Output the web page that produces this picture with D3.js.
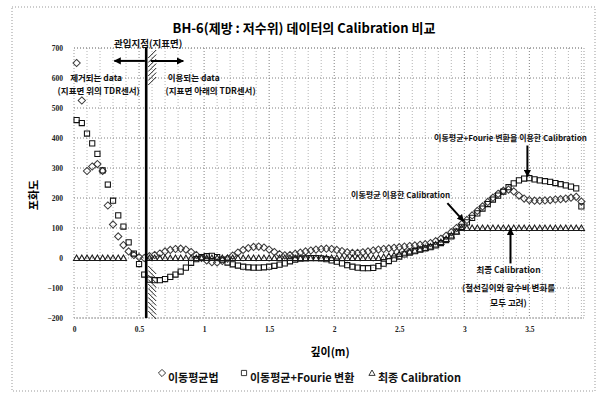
<!DOCTYPE html>
<html>
<head>
<meta charset="utf-8">
<script src="https://cdn.jsdelivr.net/npm/d3@7"></script>
<style>
body { margin: 0; background: #fff; }
svg { display: block; font-family: "Noto Sans CJK KR", "Noto Sans", sans-serif; }
</style>
</head>
<body>
<div id="chart"></div>
<script>
// depth of each reading (m)
var depth = [
  0.02, 0.06, 0.10, 0.14, 0.18, 0.22, 0.26, 0.30, 0.34, 0.38,
  0.42, 0.46, 0.50, 0.54, 0.58, 0.62, 0.66, 0.70, 0.74, 0.78,
  0.82, 0.86, 0.90, 0.94, 0.98, 1.02, 1.06, 1.10, 1.14, 1.18,
  1.22, 1.26, 1.30, 1.34, 1.38, 1.42, 1.46, 1.50, 1.54, 1.58,
  1.62, 1.66, 1.70, 1.74, 1.78, 1.82, 1.86, 1.90, 1.94, 1.98,
  2.02, 2.06, 2.10, 2.14, 2.18, 2.22, 2.26, 2.30, 2.34, 2.38,
  2.42, 2.46, 2.50, 2.54, 2.58, 2.62, 2.66, 2.70, 2.74, 2.78,
  2.82, 2.86, 2.90, 2.94, 2.98, 3.02, 3.06, 3.10, 3.14, 3.18,
  3.22, 3.26, 3.30, 3.34, 3.38, 3.42, 3.46, 3.50, 3.54, 3.58,
  3.62, 3.66, 3.70, 3.74, 3.78, 3.82, 3.86, 3.90
];

// 이동평균법 (diamonds)
var movingAvg = [
  650, 525, 290, 305, 313, 290, 175, 112, 72, 43,
  22, 10, 3, 0, 6, 10, 15, 22, 27, 30,
  31, 28, 20, 10, 0, -8, -14, -15, -10, -2,
  8, 18, 27, 33, 37, 38, 35, 28, 20, 13,
  9, 10, 14, 18, 22, 25, 28, 30, 31, 30,
  27, 23, 19, 17, 17, 19, 22, 25, 28, 30,
  32, 34, 36, 38, 40, 42, 44, 46, 50, 56,
  64, 74, 86, 100, 113, 127, 142, 157, 172, 187,
  201, 214, 224, 228, 222, 208, 198, 193, 191, 191,
  192, 193, 195, 196, 198, 201, 204, 188
];

// 이동평균+Fourie 변환 (squares)
var fourier = [
  460, 450, 415, 382, 347, 292, 245, 191, 142, 105,
  52, 15, -20, -55, -72, -74, -74, -70, -63, -55,
  -45, -32, -16, -4, 3, 6, 7, 3, -5, -15,
  -21, -25, -29, -31, -32, -32, -31, -29, -26, -22,
  -18, -11, -5, -2, -1, 0, 0, -1, -4, -8,
  -12, -18, -24, -29, -32, -34, -34, -33, -27, -19,
  -10, -2, 5, 12, 18, 23, 28, 32, 36, 42,
  50, 60, 72, 88, 104, 119, 134, 149, 165, 180,
  195, 208, 221, 236, 249, 259, 265, 266, 262, 259,
  256, 254, 250, 246, 242, 238, 232, 172
];

// 최종 Calibration (triangles)
var finalCal = [
  0, 0, 0, 0, 0, 0, 0, 0, 0, 0,
  null, null, null, null, 0, 0, 0, 0, 0, 0,
  0, 0, 0, 0, 0, 0, 0, 0, 0, 0,
  0, 0, 0, 0, 0, 0, 0, 0, 0, 0,
  0, 0, 0, 0, 0, 0, 0, 0, 0, 0,
  0, 0, 0, 0, 0, 0, 0, 0, 0, 3,
  6, 9, 13, 17, 21, 25, 29, 33, 38, 45,
  53, 63, 75, 88, 100, 100, 100, 100, 100, 100,
  100, 100, 100, 100, 100, 100, 100, 100, 100, 100,
  100, 100, 100, 100, 100, 100, 100, 100
];

var xTicks = [0, 0.5, 1, 1.5, 2, 2.5, 3, 3.5];
var yTicks = [-200, -100, 0, 100, 200, 300, 400, 500, 600, 700];
var surfaceDepth = 0.555;

var width = 599, height = 396;
var svg = d3.select('#chart').append('svg')
    .attr('width', width)
    .attr('height', height);

// outer frame
svg.append('rect')
    .attr('x', 12).attr('y', 7).attr('width', 583).attr('height', 384)
    .attr('fill', 'none').attr('stroke', '#999').attr('stroke-dasharray', '1 2');

var x = d3.scaleLinear().domain([0, 3.92]).range([74, 584]);
var y = d3.scaleLinear().domain([-200, 700]).range([318, 48]);

// minor + major vertical grid
var minorX = d3.range(1, 40).map(function (i) { return i / 10; }).filter(function (d) { return d <= 3.92; });
svg.append('g').selectAll('line')
    .data(minorX)
    .enter().append('line')
    .attr('x1', function (d) { return x(d); }).attr('x2', function (d) { return x(d); })
    .attr('y1', y(700)).attr('y2', y(-200))
    .attr('stroke', function (d) { return Math.abs(d * 2 - Math.round(d * 2)) < 1e-6 ? '#808080' : '#b4b4b4'; })
    .attr('stroke-dasharray', '1 2');

// horizontal grid
svg.append('g').selectAll('line')
    .data(yTicks)
    .enter().append('line')
    .attr('x1', x(0)).attr('x2', x(3.92))
    .attr('y1', function (d) { return y(d); }).attr('y2', function (d) { return y(d); })
    .attr('stroke', '#808080').attr('stroke-dasharray', '1 2');

// plot frame sides
svg.append('rect')
    .attr('x', x(0)).attr('y', y(700))
    .attr('width', x(3.92) - x(0)).attr('height', y(-200) - y(700))
    .attr('fill', 'none').attr('stroke', '#999').attr('stroke-dasharray', '1 2');

// axes (labels only)
var yAxis = svg.append('g')
    .attr('transform', 'translate(' + x(0) + ',0)')
    .call(d3.axisLeft(y).tickValues(yTicks).tickSize(0).tickPadding(11));
var xAxis = svg.append('g')
    .attr('transform', 'translate(0,' + y(-200) + ')')
    .call(d3.axisBottom(x).tickValues(xTicks).tickFormat(d3.format('~g')).tickSize(0).tickPadding(9));
[yAxis, xAxis].forEach(function (g) {
    g.select('.domain').remove();
    g.selectAll('text').attr('font-size', 7.5).attr('fill', '#222')
        .attr('font-family', '"Liberation Serif", serif').attr('font-weight', 'bold');
});

// marker shapes
var diamondPath = 'M0,-3.6L3.6,0L0,3.6L-3.6,0Z';
var squarePath = 'M-2.6,-2.6H2.6V2.6H-2.6Z';
var trianglePath = 'M0,-3L3.1,2.4H-3.1Z';

var series = [
    { values: movingAvg, path: diamondPath, color: '#3a3a3a' },
    { values: fourier, path: squarePath, color: '#111' },
    { values: finalCal, path: trianglePath, color: '#1a1a1a' }
];

series.forEach(function (s) {
    var pts = depth.map(function (d, i) { return { d: d, v: s.values[i] }; })
        .filter(function (p) { return p.v !== null; });
    svg.append('g').selectAll('path')
        .data(pts)
        .enter().append('path')
        .attr('d', s.path)
        .attr('transform', function (p) { return 'translate(' + x(p.d) + ',' + y(p.v) + ')'; })
        .attr('fill', 'none')
        .attr('stroke', s.color)
        .attr('stroke-width', 1.05);
});

// ground surface line with hatching
var sx = x(surfaceDepth);
svg.append('line')
    .attr('x1', sx).attr('x2', sx).attr('y1', y(703)).attr('y2', y(-200))
    .attr('stroke', '#000').attr('stroke-width', 2.6);

var hatchTop = [680, 665, 650, 635, 620, 605, 590];
var hatchBottom = [-40, -55, -70, -85, -100, -115, -130, -145, -160, -175, -190];
svg.append('g').selectAll('line')
    .data(hatchTop)
    .enter().append('line')
    .attr('x1', sx + 2).attr('x2', sx + 10)
    .attr('y1', function (d) { return y(d) + 4; }).attr('y2', function (d) { return y(d) - 4; })
    .attr('stroke', '#222').attr('stroke-width', 1);
svg.append('g').selectAll('line')
    .data(hatchBottom)
    .enter().append('line')
    .attr('x1', sx + 2).attr('x2', sx + 10)
    .attr('y1', function (d) { return y(d) - 4; }).attr('y2', function (d) { return y(d) + 4; })
    .attr('stroke', '#222').attr('stroke-width', 1);

// arrow head
svg.append('defs').append('marker')
    .attr('id', 'head')
    .attr('viewBox', '0 0 10 10')
    .attr('refX', 9).attr('refY', 5)
    .attr('markerWidth', 3.6).attr('markerHeight', 3.6)
    .attr('orient', 'auto')
    .append('path').attr('d', 'M0,0L10,5L0,10Z').attr('fill', '#000');

var arrows = [
    { x1: 0.545, y1: 657, x2: 0.31, y2: 657 },
    { x1: 0.59, y1: 657, x2: 0.84, y2: 657 },
    { x1: 3.485, y1: 375, x2: 3.485, y2: 272 },
    { x1: 2.87, y1: 183, x2: 2.995, y2: 123 },
    { x1: 3.355, y1: -18, x2: 3.355, y2: 98 }
];
svg.append('g').selectAll('line')
    .data(arrows)
    .enter().append('line')
    .attr('x1', function (d) { return x(d.x1); }).attr('y1', function (d) { return y(d.y1); })
    .attr('x2', function (d) { return x(d.x2); }).attr('y2', function (d) { return y(d.y2); })
    .attr('stroke', '#000').attr('stroke-width', 2)
    .attr('marker-end', 'url(#head)');

// annotations
var notes = [
    { t: '관입지점(지표면)', d: 0.57, v: 713, size: 9.5 },
    { t: '제거되는 data', d: 0.17, v: 600, size: 8.5 },
    { t: '(지표면 위의 TDR센서)', d: 0.19, v: 557, size: 8.5 },
    { t: '이용되는 data', d: 0.92, v: 600, size: 8.5 },
    { t: '(지표면 아래의 TDR센서)', d: 1.05, v: 557, size: 8.5 },
    { t: '이동평균+Fourie 변환을 이용한 Calibration', d: 3.355, v: 400, size: 8 },
    { t: '이동평균 이용한 Calibration', d: 2.51, v: 210, size: 8 },
    { t: '최종 Calibration', d: 3.34, v: -40, size: 8.5 },
    { t: '(철선길이와 함수비 변화를', d: 3.34, v: -100, size: 8.5 },
    { t: '모두 고려)', d: 3.34, v: -150, size: 8.5 }
];
svg.append('g').selectAll('text')
    .data(notes)
    .enter().append('text')
    .attr('x', function (d) { return x(d.d); })
    .attr('y', function (d) { return y(d.v); })
    .attr('dy', '0.35em')
    .attr('text-anchor', 'middle')
    .attr('font-size', function (d) { return d.size; })
    .attr('font-weight', 'bold')
    .attr('fill', '#111')
    .text(function (d) { return d.t; });

// title and axis titles
svg.append('text')
    .attr('x', 304).attr('y', 33)
    .attr('text-anchor', 'middle')
    .attr('font-size', 13).attr('font-weight', 'bold')
    .text('BH-6(제방 : 저수위) 데이터의 Calibration 비교');

svg.append('text')
    .attr('transform', 'translate(38,' + y(210) + ') rotate(-90)')
    .attr('text-anchor', 'middle')
    .attr('font-size', 11).attr('font-weight', 'bold')
    .text('포화도');

svg.append('text')
    .attr('x', 330).attr('y', 356)
    .attr('text-anchor', 'middle')
    .attr('font-size', 11).attr('font-weight', 'bold')
    .text('깊이(m)');

// legend
var legendItems = [
    { t: '이동평균법', path: diamondPath, lx: 162 },
    { t: '이동평균+Fourie 변환', path: squarePath, lx: 244 },
    { t: '최종 Calibration', path: trianglePath, lx: 372 }
];
var legend = svg.append('g');
legendItems.forEach(function (it) {
    legend.append('path')
        .attr('d', it.path)
        .attr('transform', 'translate(' + it.lx + ',373)')
        .attr('fill', 'none').attr('stroke', '#222').attr('stroke-width', 0.9);
    legend.append('text')
        .attr('x', it.lx + 6).attr('y', 382)
        .attr('font-size', 11).attr('font-weight', 'bold')
        .attr('fill', '#111')
        .text(it.t);
});
</script>
</body>
</html>
